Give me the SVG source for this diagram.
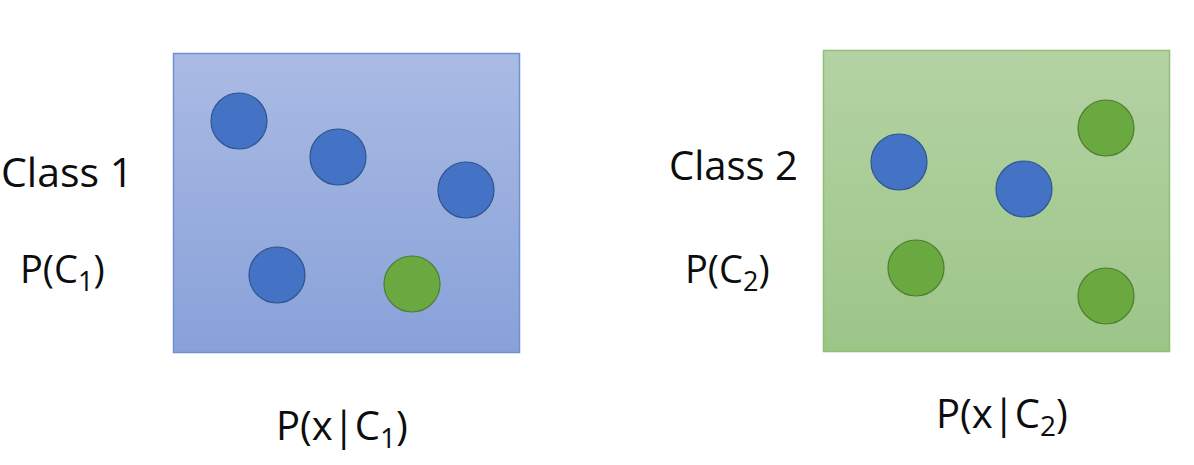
<svg xmlns="http://www.w3.org/2000/svg" width="1194" height="465" viewBox="0 0 1194 465">
<defs>
<linearGradient id="gBlue" x1="0" y1="0" x2="0" y2="1"><stop offset="0" stop-color="#aabbe4"/><stop offset="1" stop-color="#88a1d9"/></linearGradient>
<linearGradient id="gGreen" x1="0" y1="0" x2="0" y2="1"><stop offset="0" stop-color="#b4d3a4"/><stop offset="1" stop-color="#9cc588"/></linearGradient>
</defs>
<style>
.t{font-family:"Open Sans","Liberation Sans",sans-serif;fill:#0d0d0d;}
.b{fill:#4472c4;stroke:#30548f;stroke-width:1.2;}
.g{fill:#6aa840;stroke:#4f7d33;stroke-width:1.2;}
</style>
<rect width="1194" height="465" fill="#ffffff"/>
<g id="box1">
<rect x="173.5" y="53.5" width="346" height="299" fill="url(#gBlue)" stroke="#7090d2" stroke-width="1.5"/>
<circle class="b" cx="239" cy="121" r="28"/>
<circle class="b" cx="338" cy="157" r="28"/>
<circle class="b" cx="466" cy="190" r="28"/>
<circle class="b" cx="277" cy="275" r="28"/>
<circle class="g" cx="412" cy="284" r="28"/>
</g>
<g id="box2">
<rect x="823.5" y="50.5" width="346" height="301" fill="url(#gGreen)" stroke="#90bf74" stroke-width="1.5"/>
<circle class="b" cx="899" cy="162" r="28"/>
<circle class="b" cx="1024" cy="189" r="28"/>
<circle class="g" cx="1106" cy="128" r="28"/>
<circle class="g" cx="916" cy="268" r="28"/>
<circle class="g" cx="1106" cy="296" r="28"/>
</g>
<g id="labels1">
<text class="t" x="1" y="187" font-size="41">Class 1</text>
<text class="t" x="20" y="283" font-size="38">P(C<tspan font-size="27" dy="8">1</tspan><tspan dy="-8">)</tspan></text>
<text class="t" x="276" y="440" font-size="40">P(x|C<tspan font-size="28" dy="8">1</tspan><tspan dy="-8">)</tspan></text>
</g>
<g id="labels2">
<text class="t" x="669" y="180" font-size="40">Class 2</text>
<text class="t" x="685" y="283" font-size="38">P(C<tspan font-size="27" dy="8">2</tspan><tspan dy="-8">)</tspan></text>
<text class="t" x="936" y="428" font-size="40">P(x|C<tspan font-size="28" dy="8">2</tspan><tspan dy="-8">)</tspan></text>
</g>
</svg>
